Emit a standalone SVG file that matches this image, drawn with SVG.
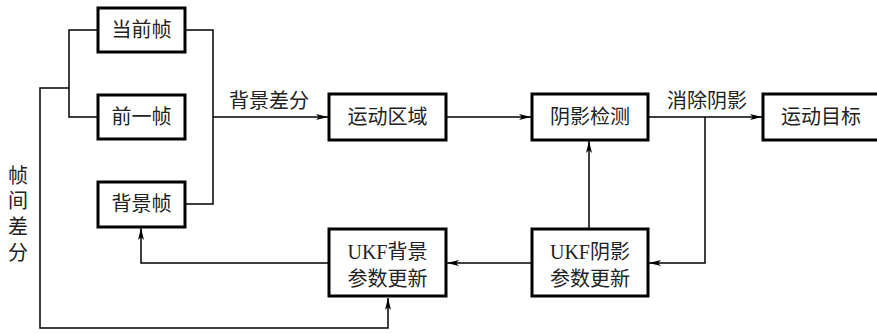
<svg xmlns="http://www.w3.org/2000/svg" width="877" height="333" viewBox="0 0 877 333">
<defs>
<marker id="ah" viewBox="0 0 12 6" refX="12" refY="3" markerWidth="12" markerHeight="6" markerUnits="userSpaceOnUse" orient="auto">
<path d="M0,0 L12,3 L0,6 L3,3 Z" fill="#000"/>
</marker>
</defs>
<style>
.box{fill:#fff;stroke:#000;stroke-width:3}
.ln{fill:none;stroke:#000;stroke-width:1.5}
.t{font-family:"Liberation Serif","Noto Sans CJK SC",serif;font-size:20px;fill:#222;text-anchor:middle}
</style>
<rect width="877" height="333" fill="#fff"/>
<g id="connectors">
<polyline class="ln" points="98,30 69,30 69,117 98,117"/>
<polyline class="ln" points="69,88 40,88 40,328 388,328 388,298" marker-end="url(#ah)"/>
<polyline class="ln" points="185,30 213,30 213,204 185,204"/>
<polyline class="ln" points="213,117 328,117" marker-end="url(#ah)"/>
<polyline class="ln" points="446,117 531,117" marker-end="url(#ah)"/>
<polyline class="ln" points="648,117 762,117" marker-end="url(#ah)"/>
<polyline class="ln" points="705,117 705,263 649,263" marker-end="url(#ah)"/>
<polyline class="ln" points="589,229 589,141" marker-end="url(#ah)"/>
<polyline class="ln" points="532,263 447,263" marker-end="url(#ah)"/>
<polyline class="ln" points="329,263 141,263 141,228" marker-end="url(#ah)"/>
<text class="t" x="269" y="108">背景差分</text>
<text class="t" x="707" y="108">消除阴影</text>
<g class="t">
<text class="t" x="18" y="183">帧</text>
<text class="t" x="18" y="208">间</text>
<text class="t" x="18" y="234">差</text>
<text class="t" x="18" y="260">分</text>
</g>
</g>
<g id="n_cur"><rect class="box" x="98" y="8" width="87" height="44"/><text class="t" x="141.5" y="37">当前帧</text></g>
<g id="n_prev"><rect class="box" x="98" y="95" width="87" height="44"/><text class="t" x="141.5" y="124">前一帧</text></g>
<g id="n_bg"><rect class="box" x="98" y="182" width="87" height="45"/><text class="t" x="141.5" y="211">背景帧</text></g>
<g id="n_motion"><rect class="box" x="329" y="94" width="117" height="46"/><text class="t" x="387.5" y="124">运动区域</text></g>
<g id="n_shadow"><rect class="box" x="532" y="94" width="116" height="46"/><text class="t" x="590" y="124">阴影检测</text></g>
<g id="n_target"><rect class="box" x="763" y="94" width="120" height="46"/><text class="t" x="821" y="124">运动目标</text></g>
<g id="n_ukfbg"><rect class="box" x="329" y="229" width="117" height="67"/><text class="t" x="387.5" y="259">UKF背景</text><text class="t" x="387.5" y="286">参数更新</text></g>
<g id="n_ukfsh"><rect class="box" x="532" y="229" width="116" height="67"/><text class="t" x="590" y="259">UKF阴影</text><text class="t" x="590" y="286">参数更新</text></g>
</svg>
